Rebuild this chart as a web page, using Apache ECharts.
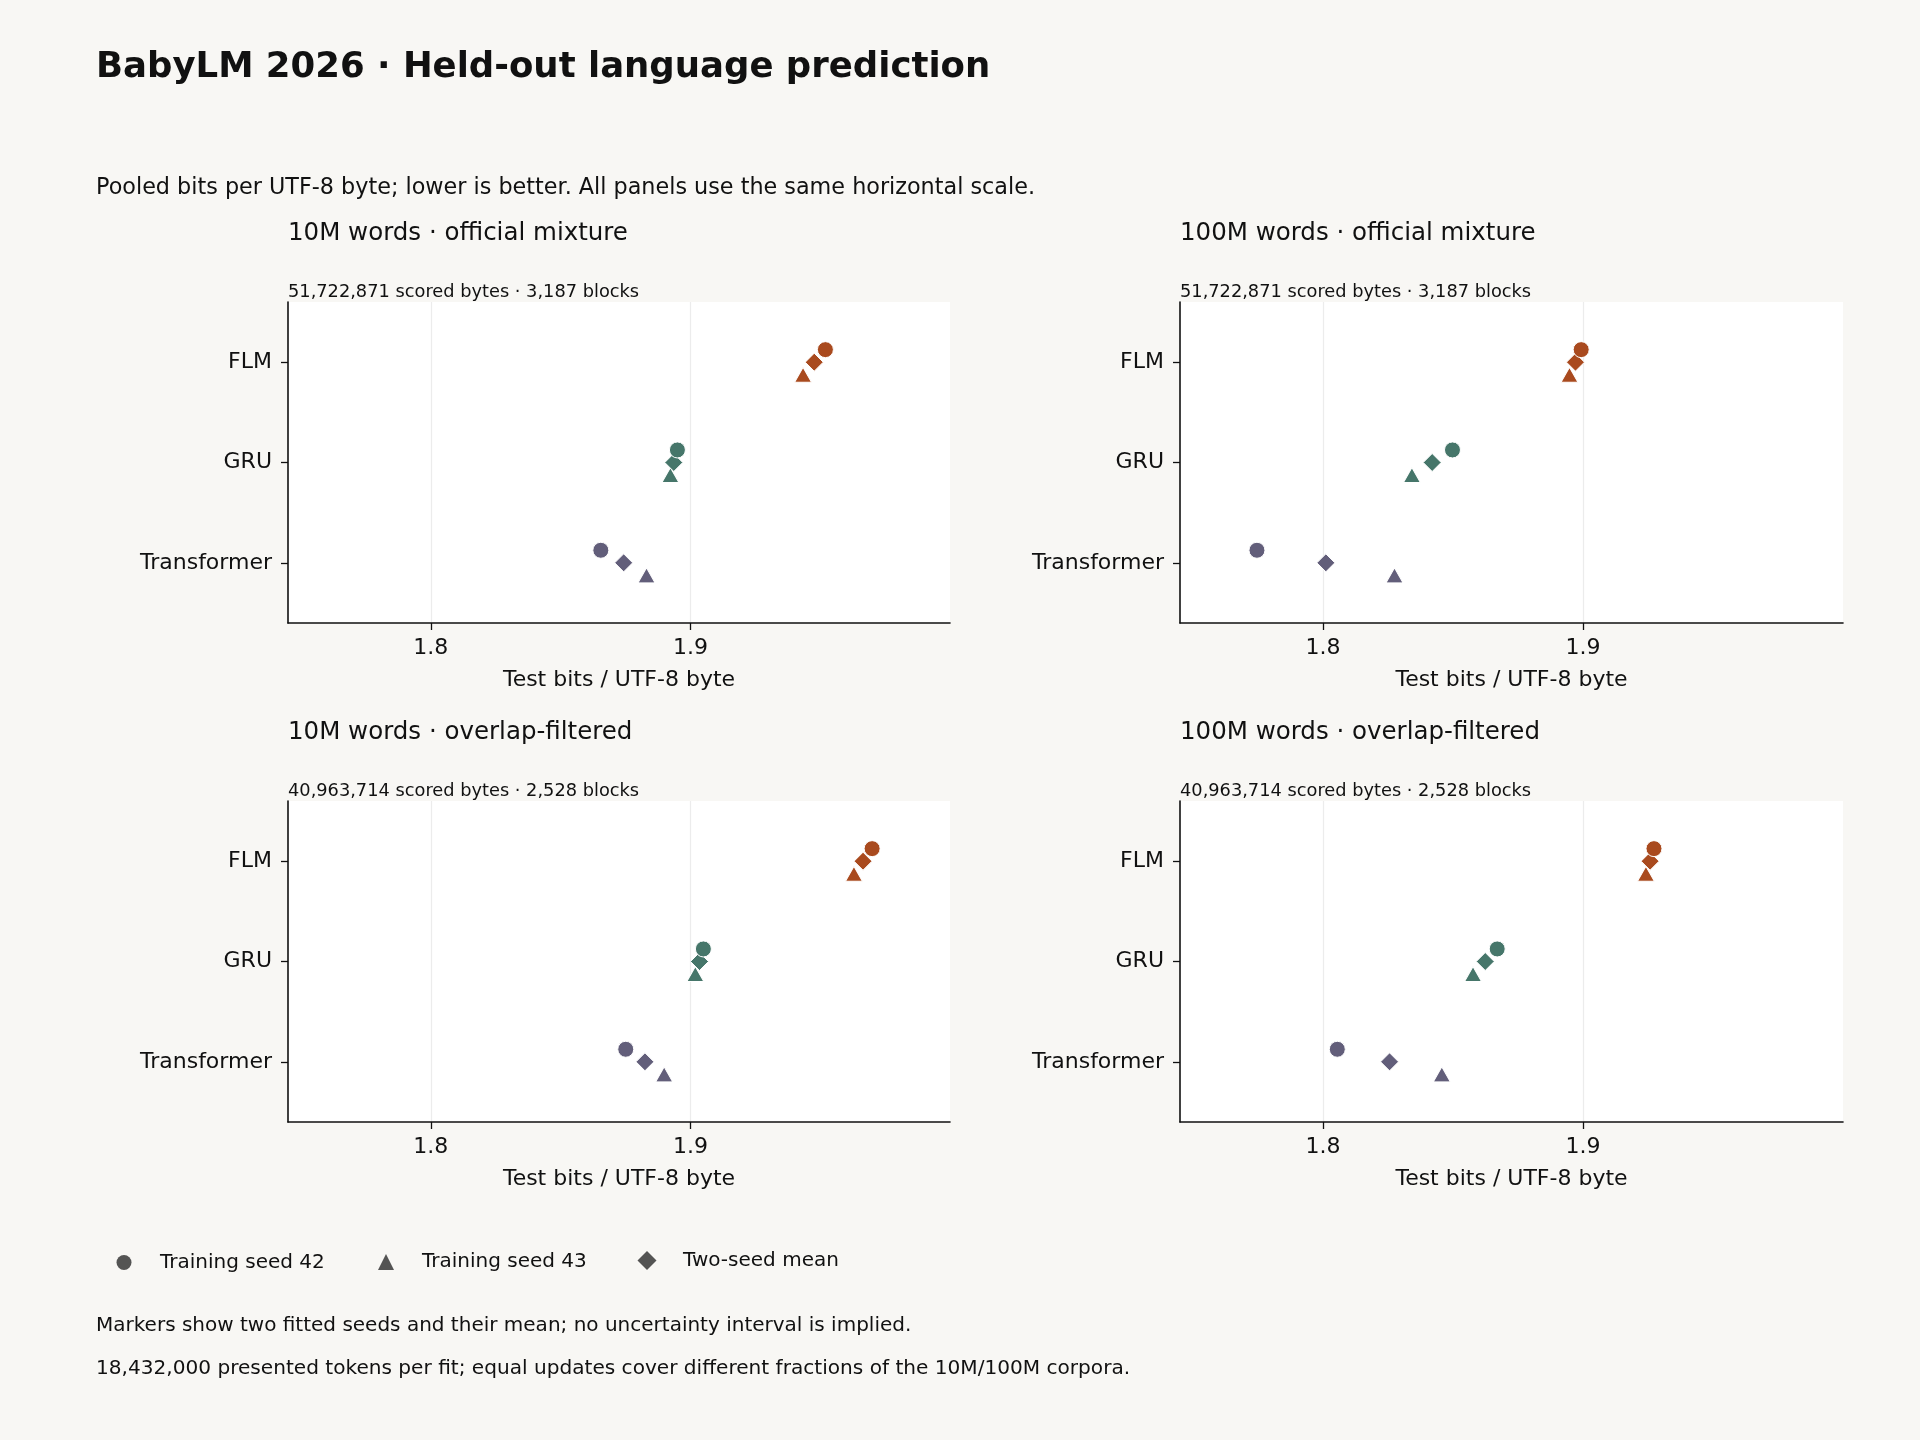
<!DOCTYPE html>
<html>
<head>
<meta charset="utf-8">
<style>
  html, body { margin: 0; padding: 0; background: #f8f7f4; }
  #chart { width: 1920px; height: 1440px; }
</style>
<script src="https://cdn.jsdelivr.net/npm/echarts@6/dist/echarts.min.js"></script>
</head>
<body>
<div id="chart"></div>
<script>
// ---------- data ----------
const categories = ['Transformer', 'GRU', 'FLM'];
const xTicks = [1.8, 1.9];
const shapeNames = ['Training seed 42', 'Training seed 43', 'Two-seed mean'];

const panelTitles = [
  '10M words · official mixture',
  '100M words · official mixture',
  '10M words · overlap-filtered',
  '100M words · overlap-filtered'
];
const panelNotes = [
  '51,722,871 scored bytes · 3,187 blocks',
  '51,722,871 scored bytes · 3,187 blocks',
  '40,963,714 scored bytes · 2,528 blocks',
  '40,963,714 scored bytes · 2,528 blocks'
];

// values ordered as categories: Transformer, GRU, FLM
const official10Seed42 = [1.8655, 1.8950, 1.9520];
const official10Seed43 = [1.8831, 1.8923, 1.9434];
const official10Mean   = [1.8743, 1.8936, 1.9477];

const official100Seed42 = [1.7746, 1.8498, 1.8993];
const official100Seed43 = [1.8275, 1.8342, 1.8948];
const official100Mean   = [1.8011, 1.8420, 1.8971];

const filtered10Seed42 = [1.8751, 1.9050, 1.9700];
const filtered10Seed43 = [1.8899, 1.9019, 1.9630];
const filtered10Mean   = [1.8825, 1.9035, 1.9665];

const filtered100Seed42 = [1.8055, 1.8670, 1.9273];
const filtered100Seed43 = [1.8457, 1.8577, 1.9242];
const filtered100Mean   = [1.8256, 1.8624, 1.9258];

// ---------- styling ----------
const FONT = '"DejaVu Sans", "Noto Sans", sans-serif';
const modelColors = ['#625e7a', '#46766a', '#a94a1e'];
const shapeSymbols = ['circle', 'triangle', 'diamond'];
const shapeSizes = [16, [17, 15], 18];
const shapeOffsets = [0.125, -0.125, 0];

const panels = [
  [official10Seed42, official10Seed43, official10Mean],
  [official100Seed42, official100Seed43, official100Mean],
  [filtered10Seed42, filtered10Seed43, filtered10Mean],
  [filtered100Seed42, filtered100Seed43, filtered100Mean]
];

const gridBoxes = [
  { left: 288, top: 302, width: 662, height: 321 },
  { left: 1180, top: 302, width: 663, height: 321 },
  { left: 288, top: 801, width: 662, height: 321 },
  { left: 1180, top: 801, width: 663, height: 321 }
];

const grids = [], xAxes = [], yAxes = [], series = [], graphics = [];

gridBoxes.forEach(function (b, p) {
  grids.push({
    left: b.left, top: b.top, width: b.width, height: b.height,
    show: true, backgroundColor: '#ffffff', borderWidth: 0, containLabel: false
  });
  xAxes.push({
    gridIndex: p, type: 'value', min: 1.745, max: 2.0,
    name: 'Test bits / UTF-8 byte', nameLocation: 'middle', nameGap: 46,
    nameTextStyle: { fontFamily: FONT, fontSize: 22, color: '#111' },
    axisLine: { show: true, onZero: false, lineStyle: { color: '#111', width: 1.6 } },
    axisTick: { show: true, length: 7, customValues: xTicks, lineStyle: { color: '#111', width: 1.3 } },
    axisLabel: { show: true, customValues: xTicks, margin: 14, fontFamily: FONT, fontSize: 22, color: '#111',
      formatter: function (v) { return v.toFixed(1); } },
    splitLine: { show: true, lineStyle: { color: '#ececec', width: 1.2 } }
  });
  yAxes.push({
    gridIndex: p, type: 'value', min: -0.6, max: 2.6,
    axisLine: { show: true, onZero: false, lineStyle: { color: '#111', width: 1.6 } },
    axisTick: { show: true, length: 7, customValues: [0, 1, 2], lineStyle: { color: '#111', width: 1.3 } },
    axisLabel: { show: true, customValues: [0, 1, 2], margin: 16, fontFamily: FONT, fontSize: 22, color: '#111',
      formatter: function (v) { return categories[Math.round(v)] || ''; } },
    splitLine: { show: false }
  });
  // draw order: triangle, diamond, circle on top
  [1, 2, 0].forEach(function (s) {
    const vals = panels[p][s];
    series.push({
      type: 'scatter', name: shapeNames[s], xAxisIndex: p, yAxisIndex: p,
      symbol: shapeSymbols[s], symbolSize: shapeSizes[s],
      itemStyle: { color: '#2b2b2b', borderColor: '#ffffff', borderWidth: 1 },
      emphasis: { disabled: true },
      data: vals.map(function (v, i) {
        return { value: [v, i + shapeOffsets[s]], itemStyle: { color: modelColors[i], opacity: 1 } };
      })
    });
  });
  graphics.push({
    type: 'text', left: b.left, top: b.top - 81,
    style: { text: panelTitles[p], fill: '#111', font: '24.5px ' + FONT }
  });
  graphics.push({
    type: 'text', left: b.left, top: b.top - 19,
    style: { text: panelNotes[p], fill: '#111', font: '17.8px ' + FONT }
  });
});

graphics.push({
  type: 'text', left: 96, top: 50,
  style: { text: 'BabyLM 2026 · Held-out language prediction', fill: '#111', font: 'bold 35.5px ' + FONT }
});
graphics.push({
  type: 'text', left: 96, top: 177,
  style: { text: 'Pooled bits per UTF-8 byte; lower is better. All panels use the same horizontal scale.', fill: '#111', font: '22.3px ' + FONT }
});
graphics.push({
  type: 'text', left: 96, top: 1316,
  style: { text: 'Markers show two fitted seeds and their mean; no uncertainty interval is implied.', fill: '#111', font: '20px ' + FONT }
});
graphics.push({
  type: 'text', left: 96, top: 1359,
  style: { text: '18,432,000 presented tokens per fit; equal updates cover different fractions of the 10M/100M corpora.', fill: '#111', font: '20.1px ' + FONT }
});

const legendCenters = [119, 381, 642];
const legendIconSizes = [15, 16, 19];
const legends = shapeNames.map(function (n, k) {
  const w = legendIconSizes[k];
  return {
    data: [{ name: n, icon: shapeSymbols[k], itemStyle: { color: '#2b2b2b', borderWidth: 0 } }],
    left: legendCenters[k] - w / 2, top: 1255 - w / 2,
    itemWidth: w, itemHeight: w, selectedMode: false,
    textStyle: { fontFamily: FONT, fontSize: 20, color: '#111', padding: [0, 0, 0, 155 - 119 - w / 2 - 5] }
  };
});

const chart = echarts.init(document.getElementById('chart'), null, { renderer: 'canvas' });
chart.setOption({
  backgroundColor: '#f8f7f4',
  animation: false,
  grid: grids,
  xAxis: xAxes,
  yAxis: yAxes,
  legend: legends,
  graphic: graphics,
  series: series
});
</script>
</body>
</html>
